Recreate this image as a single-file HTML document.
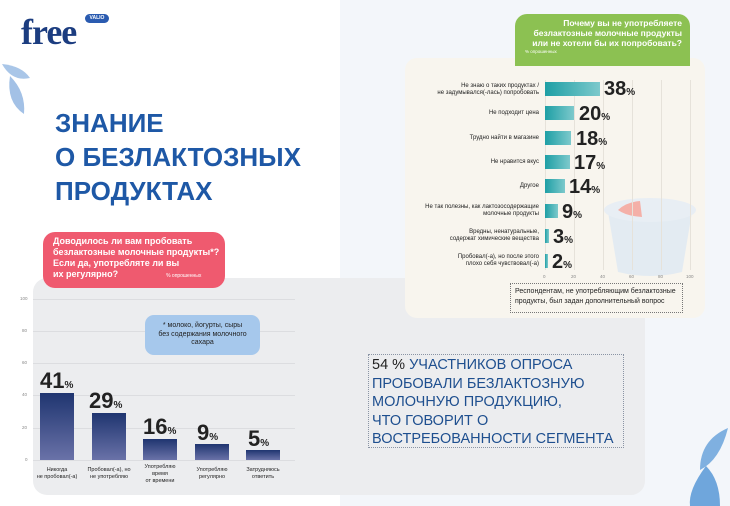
<!DOCTYPE html>
<html><head><meta charset="utf-8"><style>
*{margin:0;padding:0;box-sizing:border-box}
body{width:730px;height:506px;position:relative;overflow:hidden;background:#fff;font-family:"Liberation Sans","DejaVu Sans",sans-serif}
.a{position:absolute}
.lbl{font-size:6px;color:#222;text-align:right;line-height:7px}
.val{font-weight:bold;color:#222;white-space:nowrap}
.val small{font-size:10px}
.bl{font-size:5.5px;color:#222;text-align:center;line-height:7px}
.yl{font-size:4.5px;color:#888}
.gl{height:1px;background:#dcdde0}
.vg{width:1px;background:#e6e2da}
.rb{height:14px;background:linear-gradient(90deg,#1e9fa5,#7dc9cc)}
.lb{background:linear-gradient(180deg,#1f3570,#6a72a8)}
</style></head><body>
<div class="a" style="left:340px;top:0;width:390px;height:506px;background:#f3f6fa"></div>
<!-- leaves -->
<svg class="a" style="left:0;top:62px" width="45" height="60"><path d="M2 2 Q22 4 30 16 Q12 20 2 2Z" fill="#a9c6e8"/><path d="M10 14 Q26 30 24 52 Q6 40 10 14Z" fill="#a3c1e6"/></svg>
<svg class="a" style="left:680px;top:420px" width="50" height="86"><path d="M48 8 Q20 20 20 50 Q40 40 48 8Z" fill="#7fb0e0"/><path d="M26 46 Q8 70 10 86 L40 86 Q40 60 26 46Z" fill="#6fa6dc"/></svg>
<!-- logo -->
<div class="a" style="left:21px;top:12px;font-family:'Liberation Serif',serif;font-weight:bold;font-size:36px;line-height:40px;color:#1c3d80;letter-spacing:-1px">free</div>
<div class="a" style="left:85px;top:14px;width:24px;height:9px;border-radius:5px;background:#2a5bb0;color:#fff;font-size:5px;line-height:9px;text-align:center;font-weight:bold">VALIO</div>
<div class="a" style="left:55px;top:106px;font-size:26px;line-height:34px;font-weight:bold;color:#1e58a6">ЗНАНИЕ<br>О БЕЗЛАКТОЗНЫХ<br>ПРОДУКТАХ</div>
<!-- left gray panel -->
<div class="a" style="left:33px;top:278px;width:612px;height:217px;background:#ecedef;border-radius:14px"></div>
<div class="a" style="left:43px;top:232px;width:182px;height:56px;background:#ef5a6f;border-radius:12px;color:#fff;font-size:9px;line-height:11px;padding:4px 0 0 10px;font-weight:bold">Доводилось ли вам пробовать<br>безлактозные молочные продукты*?<br>Если да, употребляте ли вы<br>их регулярно?<span style="font-size:5px;font-weight:normal;margin-left:48px">% опрошенных</span></div>
<!-- left chart grid -->
<div class="a gl" style="left:33px;top:299px;width:262px"></div>
<div class="a gl" style="left:33px;top:331px;width:262px"></div>
<div class="a gl" style="left:33px;top:363px;width:262px"></div>
<div class="a gl" style="left:33px;top:395px;width:262px"></div>
<div class="a gl" style="left:33px;top:428px;width:262px"></div>
<div class="a gl" style="left:33px;top:460px;width:262px"></div>
<div class="a yl" style="left:20px;top:296px">100</div>
<div class="a yl" style="left:22px;top:328px">80</div>
<div class="a yl" style="left:22px;top:360px">60</div>
<div class="a yl" style="left:22px;top:392px">40</div>
<div class="a yl" style="left:22px;top:425px">20</div>
<div class="a yl" style="left:25px;top:457px">0</div>
<div class="a" style="left:145px;top:315px;width:115px;height:40px;background:#a6c8ec;border-radius:9px;font-size:7px;line-height:8.5px;text-align:center;padding-top:7px;color:#222">* молоко, йогурты, сыры<br>без содержания молочного<br>сахара</div>
<div class="a lb" style="left:40px;top:393px;width:34px;height:67px"></div>
<div class="a lb" style="left:92px;top:413px;width:34px;height:47px"></div>
<div class="a lb" style="left:143px;top:439px;width:34px;height:21px"></div>
<div class="a lb" style="left:195px;top:444px;width:34px;height:16px"></div>
<div class="a lb" style="left:246px;top:450px;width:34px;height:10px"></div>
<div class="a val" style="left:40px;top:368px;font-size:22px">41<small>%</small></div>
<div class="a val" style="left:89px;top:388px;font-size:22px">29<small>%</small></div>
<div class="a val" style="left:143px;top:414px;font-size:22px">16<small>%</small></div>
<div class="a val" style="left:197px;top:420px;font-size:22px">9<small>%</small></div>
<div class="a val" style="left:248px;top:426px;font-size:22px">5<small>%</small></div>
<div class="a bl" style="left:32px;top:467px;width:50px">Никогда<br>не пробовал(-а)</div>
<div class="a bl" style="left:82px;top:467px;width:54px">Пробовал(-а), но<br>не употребляю</div>
<div class="a bl" style="left:135px;top:464px;width:50px">Употребляю<br>время<br>от времени</div>
<div class="a bl" style="left:187px;top:467px;width:50px">Употребляю<br>регулярно</div>
<div class="a bl" style="left:238px;top:467px;width:50px">Затрудняюсь<br>ответить</div>
<!-- statement -->
<div class="a" style="left:368px;top:354px;width:256px;height:94px;border:1px dotted #8a94a4;padding:1px 3px;font-size:14.5px;line-height:18.6px;color:#1e4f8f;white-space:nowrap"><span style="color:#222">54 %</span> УЧАСТНИКОВ ОПРОСА<br>ПРОБОВАЛИ БЕЗЛАКТОЗНУЮ<br>МОЛОЧНУЮ ПРОДУКЦИЮ,<br>ЧТО ГОВОРИТ О<br>ВОСТРЕБОВАННОСТИ СЕГМЕНТА</div>
<!-- right beige panel -->
<div class="a" style="left:405px;top:58px;width:300px;height:260px;background:#f8f5ee;border-radius:12px"></div>
<svg class="a" style="left:600px;top:180px" width="100" height="100"><path d="M8 32 L18 92 Q50 100 82 92 L92 32Z" fill="#e3ebf2"/><ellipse cx="50" cy="30" rx="46" ry="12" fill="#e8eef4"/><path d="M18 30 Q26 22 40 21 L42 37 Q26 36 18 30Z" fill="#f4b0a8"/></svg>
<div class="a vg" style="left:545px;top:80px;height:190px"></div>
<div class="a vg" style="left:574px;top:80px;height:190px"></div>
<div class="a vg" style="left:603px;top:80px;height:190px"></div>
<div class="a vg" style="left:632px;top:80px;height:190px"></div>
<div class="a vg" style="left:661px;top:80px;height:190px"></div>
<div class="a vg" style="left:690px;top:80px;height:190px"></div>
<div class="a yl" style="left:543px;top:274px">0</div>
<div class="a yl" style="left:571px;top:274px">20</div>
<div class="a yl" style="left:600px;top:274px">40</div>
<div class="a yl" style="left:629px;top:274px">60</div>
<div class="a yl" style="left:658px;top:274px">80</div>
<div class="a yl" style="left:686px;top:274px">100</div>
<div class="a" style="left:515px;top:14px;width:175px;height:52px;background:#8cc152;border-radius:12px 12px 0 0;color:#fff;font-size:8.5px;line-height:10px;text-align:right;padding:4px 8px 0 0;font-weight:bold">Почему вы не употребляете<br>безлактозные молочные продукты<br>или не хотели бы их попробовать?<div style="text-align:left;font-size:4.5px;font-weight:normal;padding-left:10px;line-height:8px">% опрошенных</div></div>
<div class="a rb" style="left:545px;top:82px;width:55px"></div>
<div class="a rb" style="left:545px;top:106px;width:29px"></div>
<div class="a rb" style="left:545px;top:131px;width:26px"></div>
<div class="a rb" style="left:545px;top:155px;width:25px"></div>
<div class="a rb" style="left:545px;top:179px;width:20px"></div>
<div class="a rb" style="left:545px;top:204px;width:13px"></div>
<div class="a rb" style="left:545px;top:229px;width:4px"></div>
<div class="a rb" style="left:545px;top:254px;width:3px"></div>
<div class="a val" style="left:604px;top:78px;font-size:20px">38<small>%</small></div>
<div class="a val" style="left:579px;top:103px;font-size:20px">20<small>%</small></div>
<div class="a val" style="left:576px;top:128px;font-size:20px">18<small>%</small></div>
<div class="a val" style="left:574px;top:152px;font-size:20px">17<small>%</small></div>
<div class="a val" style="left:569px;top:176px;font-size:20px">14<small>%</small></div>
<div class="a val" style="left:562px;top:201px;font-size:20px">9<small>%</small></div>
<div class="a val" style="left:553px;top:226px;font-size:20px">3<small>%</small></div>
<div class="a val" style="left:552px;top:251px;font-size:20px">2<small>%</small></div>
<div class="a lbl" style="left:405px;top:83px;width:134px">Не знаю о таких продуктах /<br>не задумывался(-лась) попробовать</div>
<div class="a lbl" style="left:405px;top:110px;width:134px">Не подходит цена</div>
<div class="a lbl" style="left:405px;top:135px;width:134px">Трудно найти в магазине</div>
<div class="a lbl" style="left:405px;top:159px;width:134px">Не нравится вкус</div>
<div class="a lbl" style="left:405px;top:183px;width:134px">Другое</div>
<div class="a lbl" style="left:405px;top:204px;width:134px">Не так полезны, как лактозосодержащие<br>молочные продукты</div>
<div class="a lbl" style="left:405px;top:229px;width:134px">Вредны, ненатуральные,<br>содержат химические вещества</div>
<div class="a lbl" style="left:405px;top:254px;width:134px">Пробовал(-а), но после этого<br>плохо себя чувствовал(-а)</div>
<div class="a" style="left:510px;top:283px;width:173px;height:30px;border:1px dotted #777;font-size:7px;line-height:10px;padding:3px 4px;color:#222">Респондентам, не употребляющим безлактозные<br>продукты, был задан дополнительный вопрос</div>
</body></html>
